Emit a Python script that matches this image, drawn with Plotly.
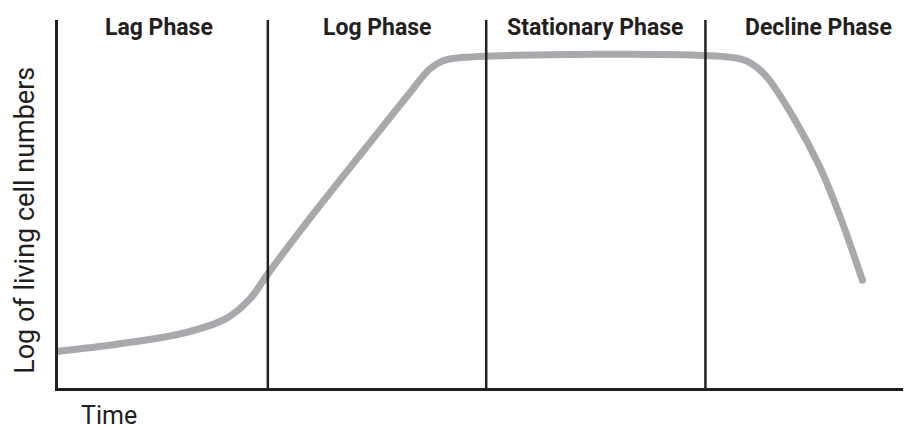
import plotly.graph_objects as go

# Data (time in arbitrary units 0-100, log of living cell numbers 0-10)
time = [0, 6.9, 14.7, 19.8, 22.5, 24.6,
        30.0, 36.0, 41.0, 43.6, 45.2, 46.8,
        79.4, 81.4, 83.1, 86.2, 89.3, 91.7, 94.3]
log_cells = [1.0, 1.19, 1.49, 1.90, 2.42, 3.10,
             4.75, 6.50, 7.95, 8.67, 8.90, 8.97,
             8.97, 8.80, 8.45, 7.36, 6.01, 4.65, 2.93]

phase_names = ["Lag Phase", "Log Phase", "Stationary Phase", "Decline Phase"]
phase_label_x = [11.8, 37.5, 62.9, 89.1]
phase_boundaries = [24.6, 50.2, 75.9]

CURVE = "#a7a9ac"
INK = "#231f20"
FONT = "Roboto, Liberation Sans, sans-serif"

fig = go.Figure()
fig.add_trace(go.Scatter(x=time, y=log_cells, mode="lines",
                         line=dict(color=CURVE, width=7, shape="spline", smoothing=1.0),
                         hoverinfo="skip", showlegend=False))
# round end caps
fig.add_trace(go.Scatter(x=[time[0], time[-1]], y=[log_cells[0], log_cells[-1]], mode="markers",
                         marker=dict(color=CURVE, size=7), hoverinfo="skip", showlegend=False))

for b in phase_boundaries:
    fig.add_shape(type="line", xref="x", yref="paper", x0=b, x1=b, y0=0, y1=1,
                  line=dict(color=INK, width=2.5), layer="above")

for name, px in zip(phase_names, phase_label_x):
    fig.add_annotation(x=px, xref="x", y=1.0, yref="paper", xanchor="center", yanchor="middle",
                       yshift=-7, text="<b>" + name + "</b>", showarrow=False,
                       font=dict(family=FONT, size=23, color=INK))

fig.add_annotation(x=0.06, xref="paper", y=0, yref="paper", xanchor="center", yanchor="middle",
                   yshift=-27, text="Time", showarrow=False,
                   font=dict(family=FONT, size=25, color=INK))
fig.add_annotation(x=-0.0395, xref="paper", y=0.455, yref="paper", xanchor="center", yanchor="middle",
                   text="Log of living cell numbers", textangle=-90, showarrow=False,
                   borderpad=0, font=dict(family=FONT, size=27, color=INK))

fig.update_xaxes(range=[0, 100], showline=True, linecolor=INK, linewidth=3,
                 showticklabels=False, ticks="", showgrid=False, zeroline=False)
fig.update_yaxes(range=[0, 10], showline=True, linecolor=INK, linewidth=2.5,
                 showticklabels=False, ticks="", showgrid=False, zeroline=False)

# page body has an 8px margin, so the figure is sized/margined to compensate
fig.update_layout(width=903, height=422, margin=dict(l=50, r=0, t=12, b=42),
                  paper_bgcolor="white", plot_bgcolor="white")

fig.write_html("out.html")
